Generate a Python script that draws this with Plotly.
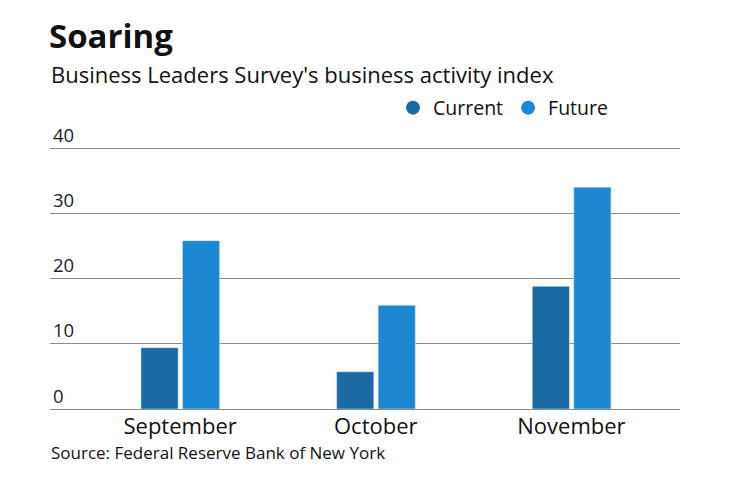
import plotly.graph_objects as go

months = ["September", "October", "November"]
current = [9.4, 5.7, 18.8]
future = [25.8, 15.9, 34.0]
y_ticks = [0, 10, 20, 30, 40]

C_CUR = "#1c6aa3"
C_FUT = "#1c87d2"
FONT = "'Open Sans', 'Noto Sans', sans-serif"

W, H = 740, 482
PL, PR = 50, 680          # plot left/right in px
Y0, YTOP = 409, 110       # zero line px, plot top px
YMAX = 40 * (Y0 - YTOP) / (409 - 148)


def py(ypix):
    return (Y0 - ypix) / (Y0 - YTOP)


def px(xpix):
    return (xpix - PL) / (PR - PL)


fig = go.Figure()
fig.add_trace(go.Bar(x=months, y=current, name="Current", marker_color=C_CUR,
                     width=0.19, offset=-0.2, showlegend=False))
fig.add_trace(go.Bar(x=months, y=future, name="Future", marker_color=C_FUT,
                     width=0.19, offset=0.012, showlegend=False))
for name, col in [("Current", C_CUR), ("Future", C_FUT)]:
    fig.add_trace(go.Scatter(x=[None], y=[None], mode="markers", name=name,
                             marker=dict(symbol="circle", size=14, color=col)))

fig.update_layout(
    width=W, height=H,
    margin=dict(l=PL, r=W - PR, t=YTOP, b=H - Y0, autoexpand=False),
    plot_bgcolor="white", paper_bgcolor="white",
    font=dict(family=FONT, color="#111111"),
    barmode="overlay",
    title=dict(text="<b>Soaring</b>", x=49 / W, xanchor="left", xref="container",
               y=1 - 36 / H, yanchor="middle", yref="container",
               font=dict(size=33, family=FONT, color="#111111")),
    legend=dict(orientation="h", x=px(393), xanchor="left", y=py(108), yanchor="middle",
                font=dict(size=19.5, family=FONT, color="#111111"),
                itemwidth=30, bgcolor="rgba(0,0,0,0)"),
    xaxis=dict(range=[-0.665, 2.555], showgrid=False, showline=False, ticks="",
               ticklabelstandoff=2,
               tickfont=dict(size=22, family=FONT, color="#111111")),
    yaxis=dict(range=[0, YMAX], tickvals=y_ticks, showgrid=True, gridcolor="#8a8a8a",
               gridwidth=1, zeroline=True, zerolinecolor="#8a8a8a", zerolinewidth=1,
               ticklabelposition="inside top", ticks="",
               tickfont=dict(size=18.5, family=FONT, color="#222222")),
    annotations=[
        dict(text="Business Leaders Survey's business activity index", xref="paper",
             yref="paper", x=px(49), xanchor="left", y=py(74), yanchor="middle",
             showarrow=False, font=dict(size=22, family=FONT, color="#111111")),
        dict(text="Source: Federal Reserve Bank of New York", xref="paper",
             yref="paper", x=px(49), xanchor="left", y=py(453), yanchor="middle",
             showarrow=False, font=dict(size=17, family=FONT, color="#111111")),
    ],
)

fig.write_html("out.html", config={"displayModeBar": False},
               post_script="document.body.style.margin='0';")
